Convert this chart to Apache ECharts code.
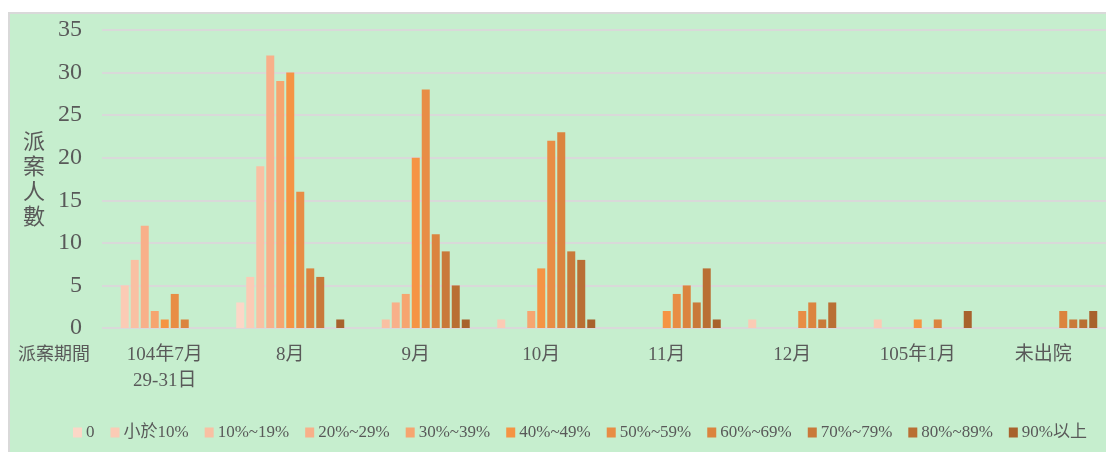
<!DOCTYPE html>
<html>
<head>
<meta charset="utf-8">
<script src="https://cdn.jsdelivr.net/npm/echarts@6/dist/echarts.min.js"></script>
<style>
html,body{margin:0;padding:0;background:#ffffff;}
#frame{position:absolute;left:8px;top:12px;width:1110px;height:450px;background:#c6eece;border:2px solid #d9d9d9;box-sizing:border-box;}
#chart{position:absolute;left:0;top:0;width:1106px;height:452px;}
</style>
</head>
<body>
<div id="frame"></div>
<div id="chart"></div>
<script>
var categories = ['104年7月\n29-31日', '8月', '9月', '10月', '11月', '12月', '105年1月', '未出院'];
var seriesNames = ['0', '小於10%', '10%~19%', '20%~29%', '30%~39%', '40%~49%', '50%~59%', '60%~69%', '70%~79%', '80%~89%', '90%以上'];
var s0   = [0, 3, 0, 0, 0, 0, 0, 0];
var s1   = [5, 6, 0, 1, 0, 1, 1, 0];
var s2   = [8, 19, 1, 0, 0, 0, 0, 0];
var s3   = [12, 32, 3, 0, 0, 0, 0, 0];
var s4   = [2, 29, 4, 2, 0, 0, 0, 0];
var s5   = [1, 30, 20, 7, 2, 0, 1, 0];
var s6   = [4, 16, 28, 22, 4, 2, 0, 0];
var s7   = [1, 7, 11, 23, 5, 3, 1, 2];
var s8   = [0, 6, 9, 9, 3, 1, 0, 1];
var s9   = [0, 0, 5, 8, 7, 3, 0, 1];
var s10  = [0, 1, 1, 1, 1, 0, 2, 2];
var yTicks = [0, 5, 10, 15, 20, 25, 30, 35];

var allData = [s0, s1, s2, s3, s4, s5, s6, s7, s8, s9, s10];
var colors = ['#fcd7c7', '#fbcbb5', '#f9c0a3', '#f8b08a', '#f6a570', '#f59444', '#e88d45', '#db843f', '#c9793a', '#b96f34', '#a8622d'];
var serif = '"Liberation Serif", "Noto Sans CJK TC", serif';
var textColor = '#595959';

var chart = echarts.init(document.getElementById('chart'));
var series = seriesNames.map(function (name, i) {
  return {
    name: name,
    type: 'bar',
    data: allData[i].map(function (v) { return v === 0 ? null : v; }),
    barWidth: 8,
    barGap: '25%',
    itemStyle: { color: colors[i] },
    animation: false
  };
});

chart.setOption({
  animation: false,
  color: colors,
  grid: { left: 102, right: 0, top: 30, bottom: 124, containLabel: false },
  xAxis: {
    type: 'category',
    data: categories,
    axisLine: { show: false },
    axisTick: { show: false },
    axisLabel: {
      color: textColor,
      fontFamily: serif,
      fontSize: 19,
      lineHeight: 26,
      margin: 14,
      interval: 0
    }
  },
  yAxis: {
    type: 'value',
    min: yTicks[0],
    max: yTicks[yTicks.length - 1],
    interval: 5,
    axisLine: { show: false },
    axisTick: { show: false },
    splitLine: { lineStyle: { color: '#d9d9d9', width: 2 } },
    axisLabel: {
      color: textColor,
      fontFamily: serif,
      fontSize: 24,
      margin: 20
    }
  },
  legend: {
    data: seriesNames,
    left: 68,
    right: 0,
    top: 419,
    itemWidth: 9,
    itemHeight: 10,
    itemGap: 16,
    icon: 'rect',
    textStyle: { color: textColor, fontFamily: serif, fontSize: 17, padding: [0, 0, 0, -1] }
  },
  graphic: [
    {
      type: 'text',
      left: 23,
      top: 128,
      style: {
        text: '派\n案\n人\n數',
        fill: textColor,
        font: '22px "Noto Sans CJK TC", sans-serif',
        lineHeight: 25
      }
    },
    {
      type: 'text',
      left: 18,
      top: 344,
      style: {
        text: '派案期間',
        fill: textColor,
        font: '18px "Noto Sans CJK TC", sans-serif'
      }
    }
  ],
  series: series
});
</script>
</body>
</html>
